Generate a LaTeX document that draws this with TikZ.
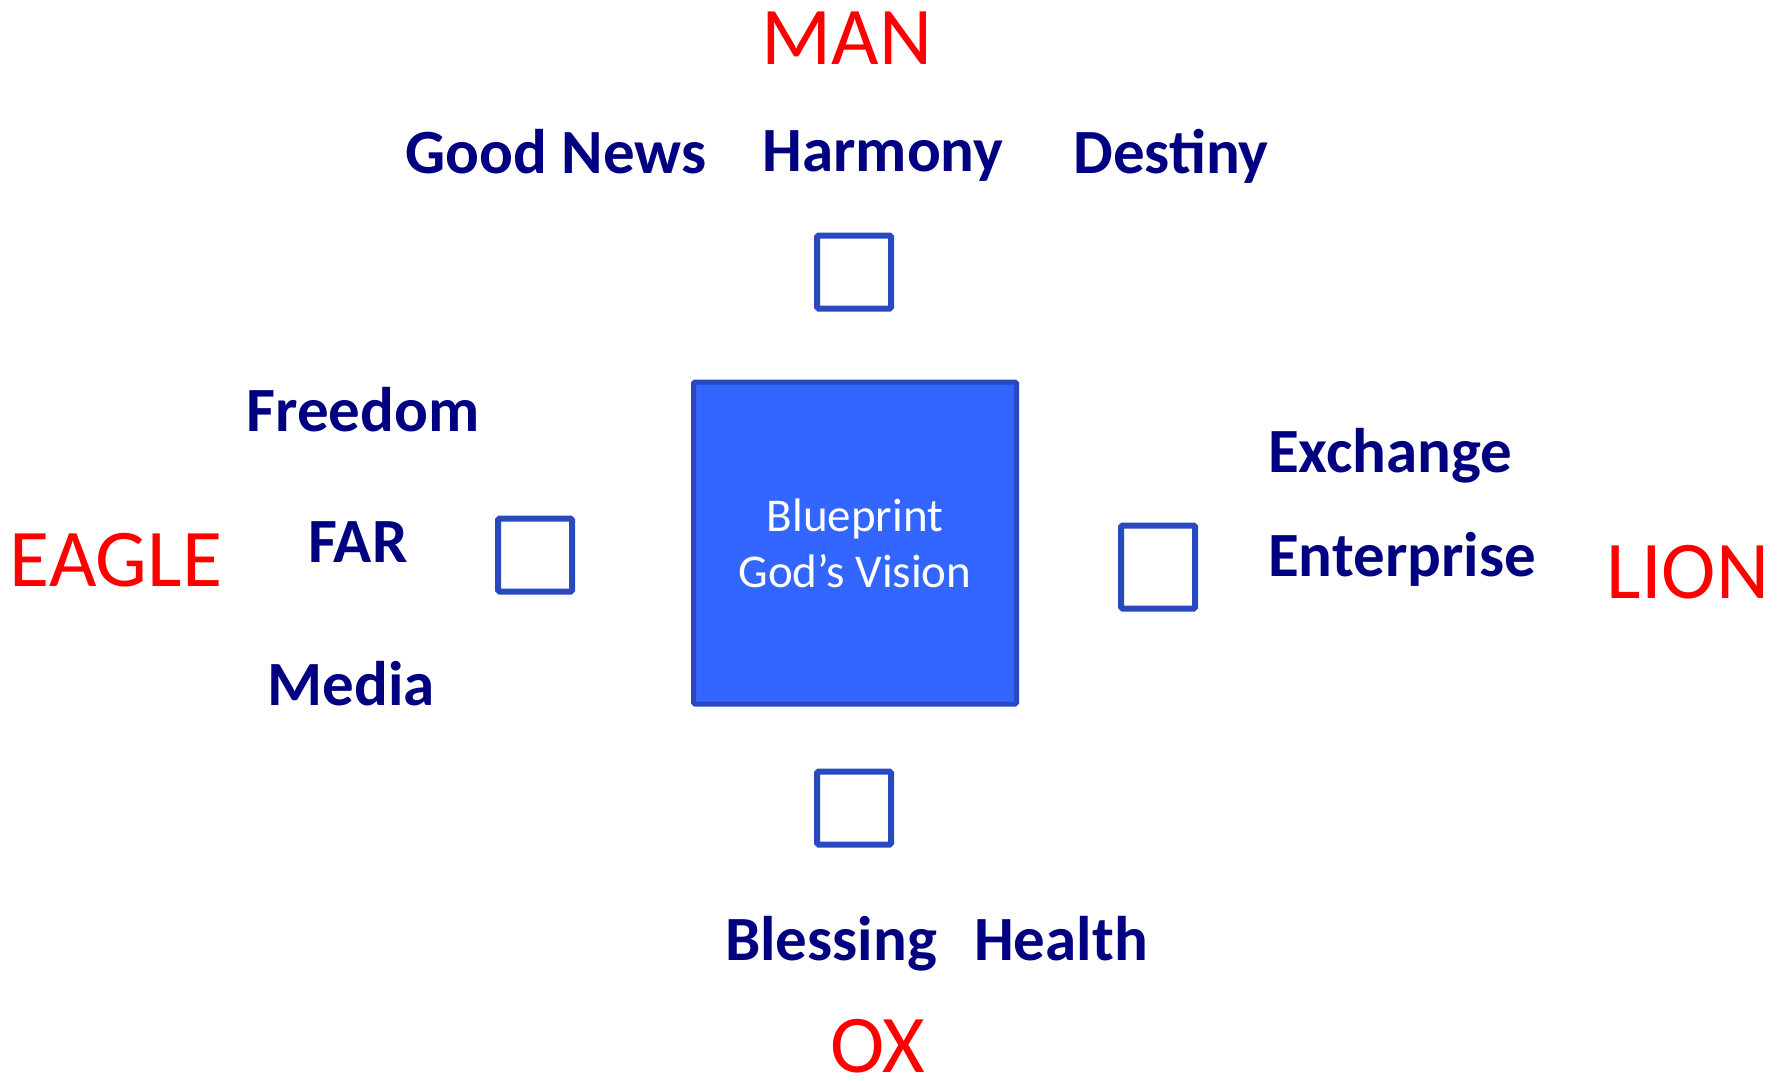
\documentclass[tikz,border=0pt]{standalone}
\usepackage{fontspec}
\setmainfont{Carlito}
\definecolor{LabelClr}{rgb}{0,0,0.5}
\definecolor{BeastClr}{rgb}{1,0,0}
\definecolor{BoxClr}{rgb}{0.2,0.4,1}
\definecolor{EdgeClr}{rgb}{0.16,0.29,0.75}
\begin{document}
\begin{tikzpicture}[x=1pt,y=-1pt,
  beast/.style={anchor=base,inner sep=0pt,text=BeastClr,font=\fontsize{82}{82}\selectfont},
  label/.style={anchor=base,inner sep=0pt,text=LabelClr,font=\fontsize{63}{63}\selectfont\bfseries},
  cell/.style={draw=EdgeClr,line width=6pt,rounded corners=1.5pt,fill=white,inner sep=0pt,minimum width=74pt,minimum height=73pt}]
\useasboundingbox (0,0) rectangle (1788,1081);

\node[draw=EdgeClr,fill=BoxClr,line width=5pt,rounded corners=1.5pt,minimum width=323pt,minimum height=322pt,
  text=white,align=center,font=\fontsize{47}{56}\selectfont] (vision) at (855,543) {Blueprint\\God’s Vision};

\node[cell] (topcell) at (854,272) {};
\node[cell] (leftcell) at (535,555) {};
\node[cell,minimum height=83pt] (rightcell) at (1158,567) {};
\node[cell] (bottomcell) at (854,808) {};

\node[beast] (man) at (847,65) {MAN};
\node[beast] (eagle) at (116,586) {EAGLE};
\node[beast] (lion) at (1688,598) {LION};
\node[beast] (ox) at (878,1072) {OX};

\node[label] (goodnews) at (556,173) {Good News};
\node[label] (harmony) at (883,171) {Harmony};
\node[label] (destiny) at (1171,173) {Destiny};
\node[label] (freedom) at (363,431) {Freedom};
\node[label] (far) at (358,562) {FAR};
\node[label] (media) at (351,705) {Media};
\node[label,anchor=base west] (exchange) at (1268,472) {Exchange};
\node[label,anchor=base west] (enterprise) at (1268,576) {Enterprise};
\node[label] (blessing) at (831,960) {Blessing};
\node[label] (health) at (1061,960) {Health};

\end{tikzpicture}
\end{document}
